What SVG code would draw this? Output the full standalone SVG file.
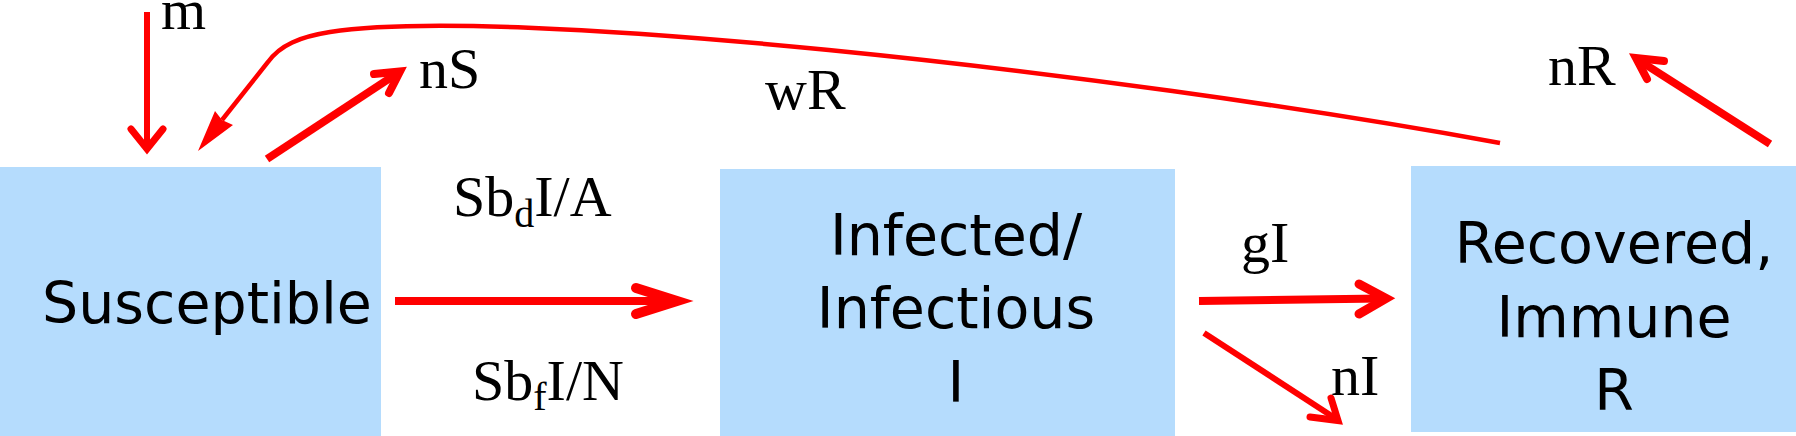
<svg xmlns="http://www.w3.org/2000/svg" width="1796" height="436" viewBox="0 0 1796 436">
<style>
.box{fill:#b5dcfd}
.lbl{font-family:"DejaVu Sans","Liberation Sans",sans-serif;font-size:57px;fill:#000;text-anchor:middle}
.rate{font-family:"Liberation Serif","Times New Roman",serif;font-size:58px;fill:#000}
.sub{font-size:40px}
.ln{stroke:#ff0000;fill:none;stroke-linecap:butt}
.head{stroke:#ff0000;fill:none;stroke-linecap:round;stroke-linejoin:miter;stroke-miterlimit:10}
</style>
<rect width="1796" height="436" fill="#fff"/>
<g id="susceptible">
<rect class="box" x="0" y="167" width="381" height="269"/>
<text class="lbl" x="207" y="323">Susceptible</text>
</g>
<g id="infected">
<rect class="box" x="720" y="169" width="455" height="267"/>
<text class="lbl" x="956" y="255">Infected/</text>
<text class="lbl" x="956" y="328">Infectious</text>
<text class="lbl" x="956" y="402">I</text>
</g>
<g id="recovered">
<rect class="box" x="1411" y="166" width="385" height="266"/>
<text class="lbl" x="1614" y="263">Recovered,</text>
<text class="lbl" x="1614" y="337">Immune</text>
<text class="lbl" x="1614" y="410">R</text>
</g>
<g id="connectors">
<line class="ln" x1="147" y1="12" x2="147" y2="146" stroke-width="6"/>
<polyline class="head" points="131,129 147,149 163,129" stroke-width="7"/>
<line class="ln" x1="267" y1="159" x2="397" y2="73.5" stroke-width="8"/>
<polyline class="head" points="374,74 400,71.5 389,93" stroke-width="8"/>
<line class="ln" x1="395" y1="301" x2="672" y2="301" stroke-width="8"/>
<polyline class="head" points="636,288 677,301 636,314" stroke-width="10"/>
<line class="ln" x1="1199" y1="301" x2="1382" y2="298.6" stroke-width="8"/>
<polyline class="head" points="1359,284 1386,298.4 1359,314" stroke-width="9"/>
<line class="ln" x1="1204" y1="333" x2="1334" y2="417.5" stroke-width="6"/>
<polyline class="head" points="1310,417 1338,420.5 1331,398" stroke-width="7"/>
<line class="ln" x1="1770" y1="144" x2="1640" y2="61" stroke-width="8"/>
<polyline class="head" points="1664,61 1636,58 1647,79" stroke-width="8"/>
<path class="ln" d="M1500,143 C1100,70 500,5 330,32 C300,36.8 280,45 268,62 L222,120" stroke-width="4.5"/>
<polygon points="198,151 215,111 222,120 233,125" fill="#ff0000"/>
</g>
<g id="labels">
<text class="rate" x="161" y="29">m</text>
<text class="rate" x="419" y="88">nS</text>
<text class="rate" x="765" y="109">wR</text>
<text class="rate" x="1548" y="85">nR</text>
<text class="rate" x="453" y="216">Sb<tspan class="sub" dy="11">d</tspan><tspan dy="-11">I/A</tspan></text>
<text class="rate" x="472" y="400">Sb<tspan class="sub" dy="10">f</tspan><tspan dy="-10">I/N</tspan></text>
<text class="rate" x="1241" y="262">gI</text>
<text class="rate" x="1331" y="395">nI</text>
</g>
</svg>
